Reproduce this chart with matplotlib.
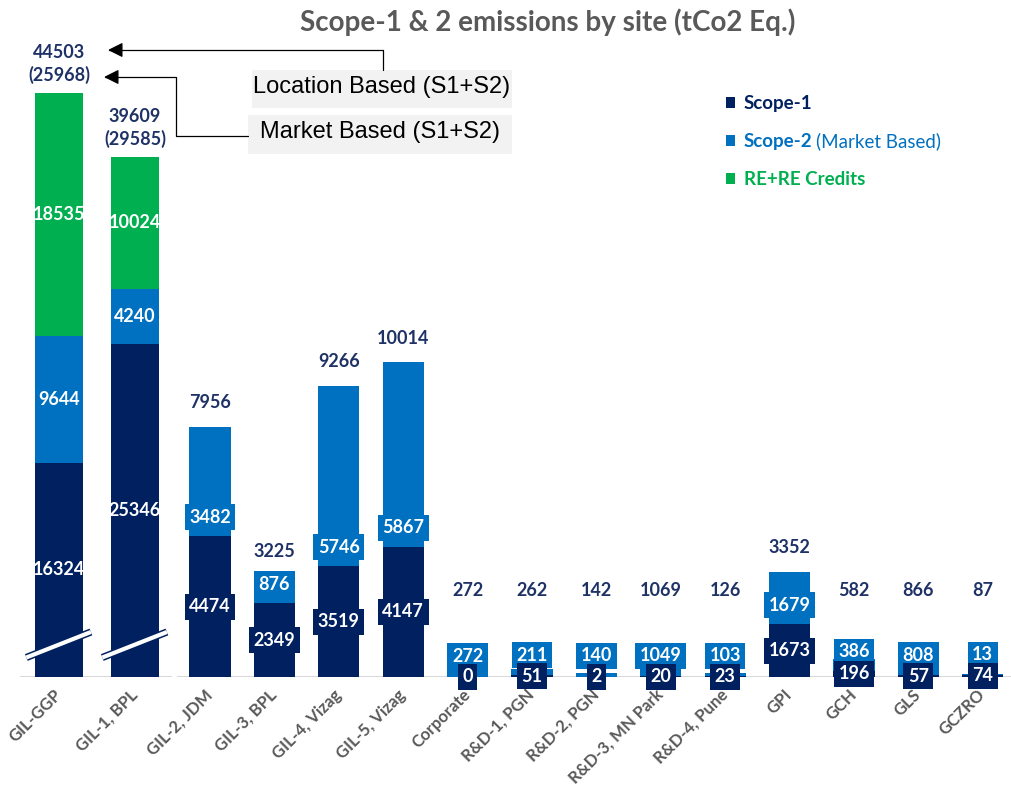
import matplotlib.pyplot as plt
import matplotlib.patheffects as pe
from matplotlib.patches import Rectangle, FancyArrowPatch
from matplotlib.path import Path

plt.rcParams['font.family'] = ['Lato', 'DejaVu Sans']

W, H = 1012, 792

# the two large sites sit on their own (compressed) scale
big_sites = ['GIL-GGP', 'GIL-1, BPL']
big_scope1 = [16324, 25346]
big_scope2 = [9644, 4240]
big_re = [18535, 10024]
big_location = [44503, 39609]
big_market = [25968, 29585]

sites = ['GIL-2, JDM', 'GIL-3, BPL', 'GIL-4, Vizag', 'GIL-5, Vizag', 'Corporate',
         'R&D-1, PGN', 'R&D-2, PGN', 'R&D-3, MN Park', 'R&D-4, Pune',
         'GPI', 'GCH', 'GLS', 'GCZRO']
scope1 = [4474, 2349, 3519, 4147, 0, 51, 2, 20, 23, 1673, 196, 57, 74]
scope2 = [3482, 876, 5746, 5867, 272, 211, 140, 1049, 103, 1679, 386, 808, 13]
totals = [7956, 3225, 9266, 10014, 272, 262, 142, 1069, 126, 3352, 582, 866, 87]

NAVY = '#002060'
BLUE = '#0070C0'
GREEN = '#00B050'
TOTAL = '#1F3266'
GREY = '#595959'
FS = 13


def fx(x):
    return x / W


def fy(y):
    return 1 - y / H


def pt(px):
    return px * 0.72


fig = plt.figure(figsize=(W / 100, H / 100), dpi=100)

base_y, top_y = 677, 40
ax_h = base_y - top_y
upp_l, upp_r = 76.2, 31.8   # data units per pixel on each panel

axL = fig.add_axes([fx(20), fy(base_y), 152 / W, ax_h / H])
axR = fig.add_axes([fx(177), fy(base_y), (W - 177) / W, ax_h / H])
axL.set_ylim(0, upp_l * ax_h)
axR.set_ylim(0, upp_r * ax_h)
axL.set_xlim(-39 / 76, 113 / 76)
axR.set_xlim(-33 / 64.4, (W - 177 - 33) / 64.4)

# --- large sites ---
xl = list(range(len(big_sites)))
bl1 = axL.bar(xl, big_scope1, width=0.63, color=NAVY)
bl2 = axL.bar(xl, big_scope2, width=0.63, bottom=big_scope1, color=BLUE)
re_bottom = [a + b for a, b in zip(big_scope1, big_scope2)]
bl3 = axL.bar(xl, big_re, width=0.63, bottom=re_bottom, color=GREEN)
for bc in (bl1, bl2, bl3):
    axL.bar_label(bc, label_type='center', color='white', fontweight='bold', fontsize=FS)

for i in xl:
    top = big_scope1[i] + big_scope2[i] + big_re[i]
    axL.annotate(f'{big_location[i]}\n({big_market[i]})', xy=(i, top),
                 xytext=(0, pt(9)), textcoords='offset points',
                 ha='center', va='bottom', color=TOTAL, fontweight='bold',
                 fontsize=FS, linespacing=1.35, annotation_clip=False)
    # axis break mark
    axL.plot([i - 0.43, i + 0.42], [19.5 * upp_l, 45 * upp_l], color='white',
             lw=3.0, solid_capstyle='butt', clip_on=False, zorder=4,
             path_effects=[pe.Stroke(linewidth=5.2, foreground=NAVY), pe.Normal()])

# --- remaining sites ---
xr = list(range(len(sites)))
br1 = axR.bar(xr, scope1, width=0.64, color=NAVY)
br2 = axR.bar(xr, scope2, width=0.64, bottom=scope1, color=BLUE)

box = dict(boxstyle='square,pad=0.25', ec='none')
for i in xr:
    a, b, t = scope1[i], scope2[i], totals[i]
    h1 = a / upp_r
    axR.annotate(str(a), xy=(i, a / 2), ha='center', va='center', color='white',
                 fontweight='bold', fontsize=FS, annotation_clip=False,
                 bbox={**box, 'fc': NAVY}, zorder=5)
    axR.annotate(str(b), xy=(i, a), xytext=(0, pt(max(19, 21 - h1 / 2))),
                 textcoords='offset points', ha='center', va='center',
                 color='white', fontweight='bold', fontsize=FS,
                 annotation_clip=False, bbox={**box, 'fc': BLUE}, zorder=4)
    ht = (a + b) / upp_r
    axR.annotate(str(t), xy=(i, a + b), xytext=(0, pt(max(24, 86 - ht))),
                 textcoords='offset points', ha='center', va='center',
                 color=TOTAL, fontweight='bold', fontsize=FS, annotation_clip=False)

for ax, labels in ((axL, big_sites), (axR, sites)):
    ax.set_xticks(range(len(labels)))
    ax.set_xticklabels(labels, rotation=45, ha='right', va='center',
                       rotation_mode='anchor', color=GREY, fontweight='bold',
                       fontsize=12)
    ax.tick_params(axis='x', length=0, pad=11)
    ax.set_yticks([])
    for s in ax.spines.values():
        s.set_visible(False)
    ax.axhline(0, color='#D9D9D9', lw=1.5, zorder=0)
    ax.set_facecolor('none')

fig.text(fx(548), fy(22), 'Scope-1 & 2 emissions by site (tCo2 Eq.)',
         ha='center', va='center', fontsize=20, fontweight='bold', color=GREY)

# Location / market based call-outs
for x0, y0, w, h in ((252, 70, 260, 38), (248, 115, 264, 39)):
    fig.patches.append(Rectangle((fx(x0), fy(y0 + h)), w / W, h / H,
                                 transform=fig.transFigure, fc='#F2F2F2', ec='none'))
fig.text(fx(382), fy(87), 'Location Based (S1+S2)', family='Liberation Sans',
         fontsize=17, ha='center', va='center', color='black')
fig.text(fx(380), fy(132), 'Market Based (S1+S2)', family='Liberation Sans',
         fontsize=17, ha='center', va='center', color='black')

for pts in ([(383, 70), (383, 50), (108, 50)],
            [(248, 136), (176, 136), (176, 77), (104, 77)]):
    verts = [(fx(x), fy(y)) for x, y in pts]
    fig.patches.append(FancyArrowPatch(path=Path(verts),
                                       arrowstyle='-|>,head_length=0.9,head_width=0.45',
                                       mutation_scale=10, transform=fig.transFigure,
                                       color='black', lw=0.9))

leg = fig.legend(handles=[br1, br2, bl3], labels=['Scope-1', 'Scope-2', 'RE+RE Credits'],
                 loc='upper left', bbox_to_anchor=(fx(726), fy(95)), frameon=False,
                 fontsize=13.5, handlelength=0.5, handleheight=0.5, handletextpad=0.45,
                 labelspacing=1.12, borderpad=0, borderaxespad=0)
for txt, c in zip(leg.get_texts(), [NAVY, BLUE, GREEN]):
    txt.set_color(c)
    txt.set_fontweight('bold')

fig.canvas.draw()
bb = leg.get_texts()[1].get_window_extent()
fig.text((bb.x1 + 4) / W, bb.y0 / H, '(Market Based)', ha='left', va='bottom',
         fontsize=13.5, color=BLUE)

fig.savefig('out.png', dpi=100)
